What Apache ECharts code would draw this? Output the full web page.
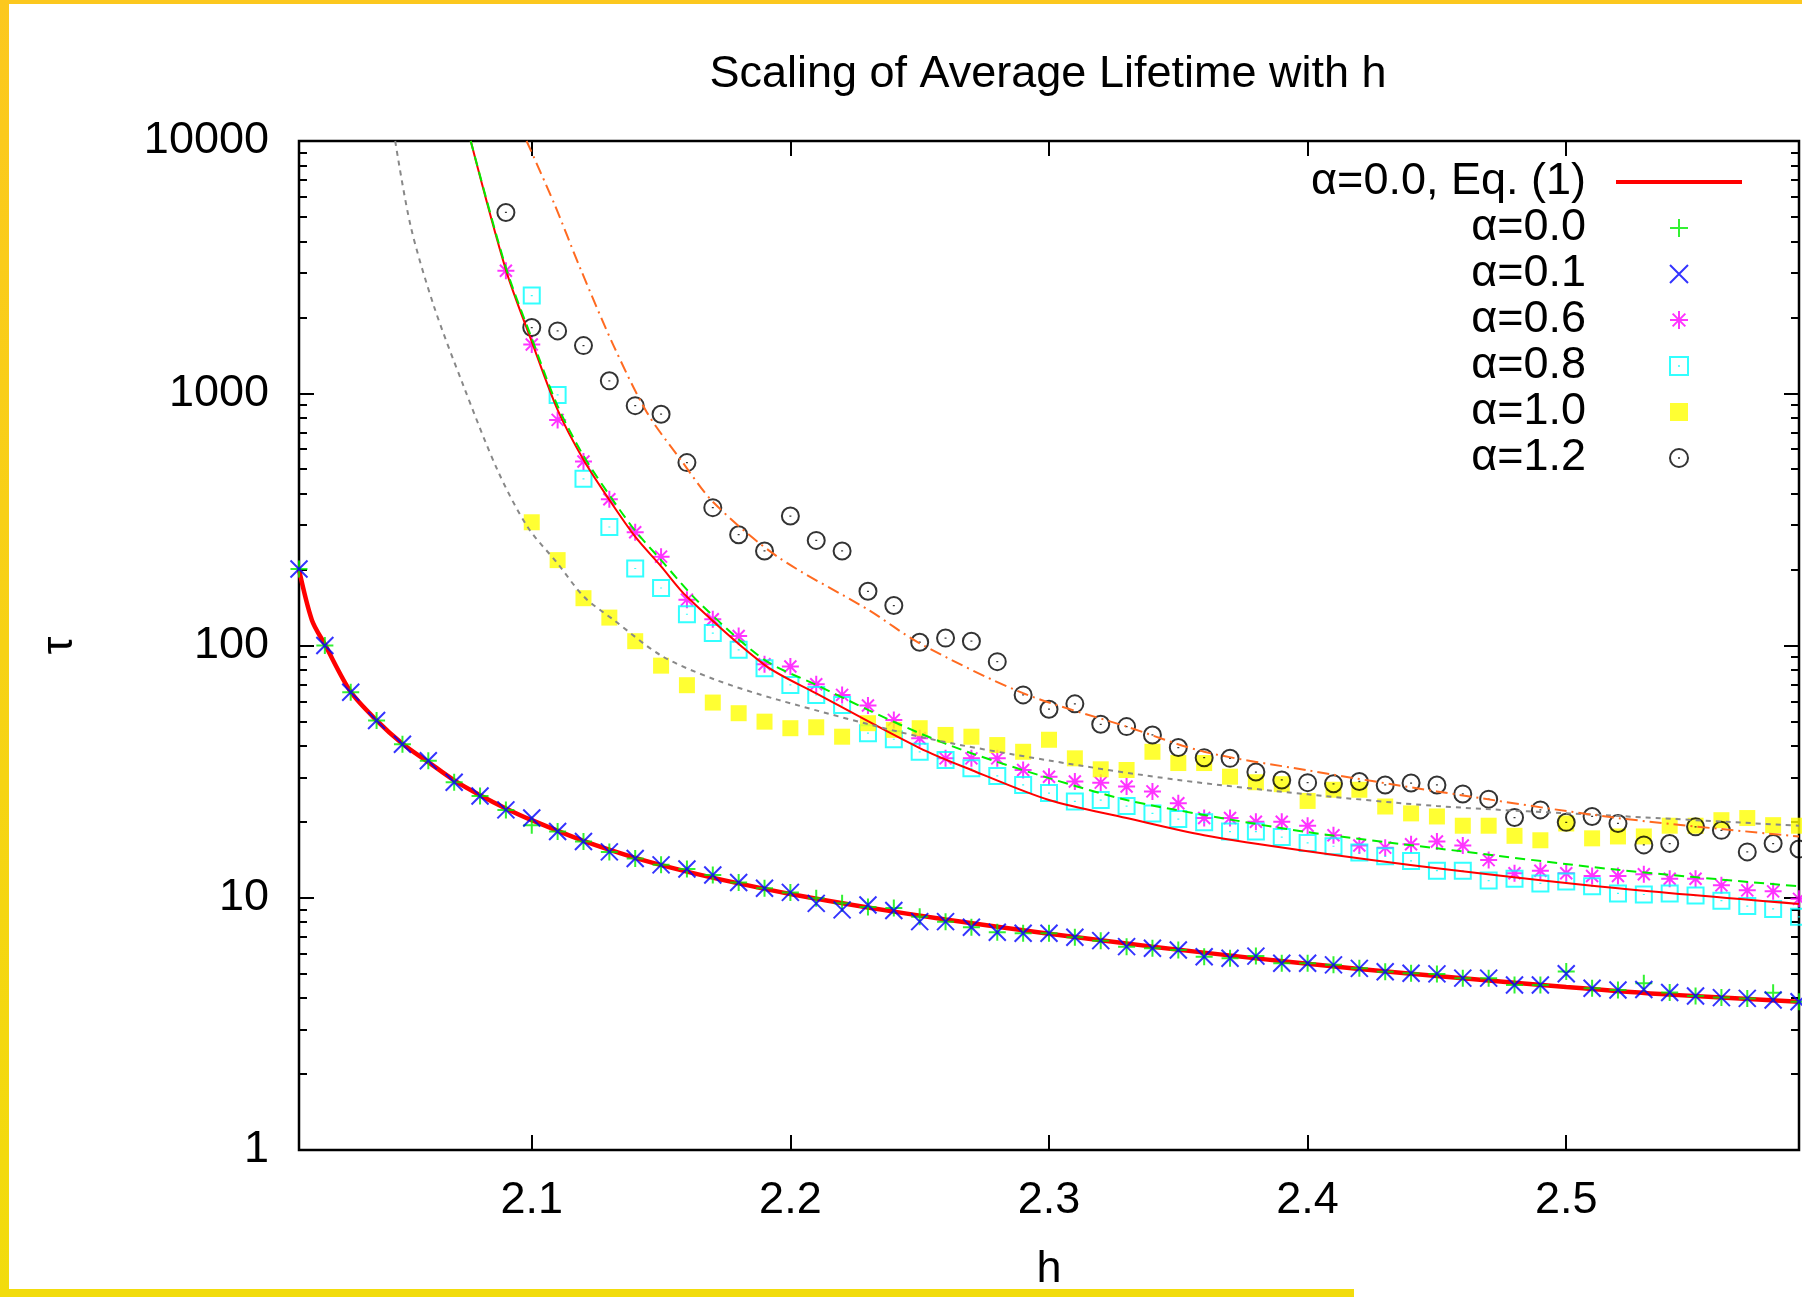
<!DOCTYPE html>
<html><head><meta charset="utf-8">
<script src="https://cdn.jsdelivr.net/npm/echarts@6/dist/echarts.min.js"></script>
<style>html,body{margin:0;padding:0;background:#fff}#chart{width:1802px;height:1297px}</style>
</head><body><div id="chart"></div>
<script>
// ---------------- data ----------------
const hGrid = [2.01,2.02,2.03,2.04,2.05,2.06,2.07,2.08,2.09,2.10,
  2.11,2.12,2.13,2.14,2.15,2.16,2.17,2.18,2.19,2.20,
  2.21,2.22,2.23,2.24,2.25,2.26,2.27,2.28,2.29,2.30,
  2.31,2.32,2.33,2.34,2.35,2.36,2.37,2.38,2.39,2.40,
  2.41,2.42,2.43,2.44,2.45,2.46,2.47,2.48,2.49,2.50,
  2.51,2.52,2.53,2.54,2.55,2.56,2.57,2.58,2.59];
const hFrom209 = hGrid.slice(8);
const hFrom210 = hGrid.slice(9);

const tauAlpha00 = [201,100,65.3,50.4,40.6,34.9,28.7,25.3,22.3,19.4,
  18.3,16.7,15.2,14.3,13.5,13.0,12.3,11.5,10.9,10.5,
  9.95,9.5,9.2,9.1,8.4,8.04,7.64,7.30,7.23,7.23,
  6.97,6.76,6.40,6.31,6.21,5.84,5.76,5.87,5.50,5.50,
  5.42,5.25,5.09,5.02,4.99,4.80,4.80,4.51,4.51,5.1,
  4.38,4.31,4.58,4.21,4.08,4.02,3.99,4.2,3.87];
const tauAlpha01 = [201,100,65.3,50.4,40.6,34.9,28.7,25.3,22.3,20.7,
  18.3,16.7,15.2,14.3,13.5,13.0,12.3,11.5,10.9,10.5,
  9.5,8.95,9.36,8.9,8.04,8.04,7.64,7.30,7.23,7.23,
  6.97,6.76,6.40,6.31,6.21,5.84,5.76,5.87,5.50,5.50,
  5.42,5.25,5.09,5.02,4.99,4.80,4.80,4.51,4.51,5.0,
  4.38,4.31,4.33,4.21,4.08,4.02,3.99,3.93,3.87];
const tauAlpha06 = [3060,1560,784,536,380,281,225,152,127,109,
  84.3,82.5,70.2,63.7,57.8,50.7,42.9,35.7,35.7,35.7,
  32.1,30.2,28.9,28.6,27.6,26.4,23.7,20.7,20.7,20.0,
  20.0,19.3,17.7,16.1,15.8,16.3,16.7,16.1,14.1,12.5,
  12.8,12.5,12.2,12.2,12.4,11.9,11.9,11.2,10.7,10.6,
  9.9];
const tauAlpha08 = [2440,985,458,295,202,169,133,112,96.1,81.3,
  69.8,63.7,58.1,44.9,42.5,37.9,35.2,32.6,30.4,28.0,
  26.0,24.1,24.4,23.1,21.6,20.5,19.9,18.3,18.3,17.4,
  16.5,16.0,15.1,14.6,14.0,12.8,12.8,11.7,11.9,11.4,
  11.6,11.1,10.4,10.3,10.4,10.2,9.74,9.27,9.03,8.4];
const tauAlpha10 = [308,218,154,129,104,83.2,69.6,59.4,53.9,49.9,
  47.0,47.4,43.5,49.2,46.3,47.0,44.2,43.5,40.3,37.9,
  42.3,35.7,32.3,32.1,37.9,34.2,34.2,30.2,28.7,28.2,
  24.2,26.8,26.8,23.0,21.6,21.0,19.3,19.3,17.6,16.9,
  19.7,17.2,17.5,17.5,19.3,19.3,20.3,20.7,19.4,19.3];
const tauAlpha12 = [5208,1822,1767,1545,1120,893,826,531,352,275,
  237,326,261,237,164,144,103,107,104,86.3,
  63.7,55.9,58.7,48.7,47.7,44.2,39.4,35.9,35.7,31.5,
  29.3,28.6,28.3,28.9,28.0,28.5,28.0,25.8,24.6,20.8,
  22.3,19.9,21.0,19.7,16.2,16.4,19.1,18.5,15.2,16.4,
  15.6];

// curves
const eq1H = [2.01,2.015,2.02,2.03,2.04,2.05,2.06,2.07,2.08,2.09,2.10,2.12,2.14,2.16,2.18,2.20,2.23,2.26,2.30,2.34,2.38,2.42,2.46,2.50,2.54,2.59];
const eq1Tau = [200,126,101,65.5,50.5,40.8,34.5,29.2,25.5,22.6,20.3,16.8,14.4,12.7,11.4,10.35,9.15,8.2,7.2,6.4,5.75,5.22,4.8,4.43,4.13,3.87];
const fitRedH = [2.0764,2.09,2.10,2.11,2.12,2.13,2.14,2.15,2.16,2.19,2.21,2.25,2.27,2.30,2.33,2.36,2.40,2.45,2.52,2.59];
const fitRedTau = [10000,3085,1603,859,545,378,270,206,156,83.8,64.6,39.2,32.1,24.4,20.7,17.7,15.3,13.1,10.9,9.45];
const fitGreenH = [2.0764,2.09,2.10,2.11,2.12,2.13,2.14,2.15,2.165,2.19,2.21,2.23,2.25,2.27,2.30,2.33,2.36,2.40,2.45,2.52,2.59];
const fitGreenTau = [10000,3150,1650,890,565,395,285,218,147,87.7,69.8,55.6,44.9,37.4,29.8,24.4,21.3,18.2,15.7,12.9,11.1];
const fitGrayH = [2.0472,2.0532,2.0622,2.0732,2.0867,2.0983,2.1099,2.1202,2.1318,2.1502,2.1705,2.195,2.25,2.30,2.35,2.40,2.45,2.52,2.59];
const fitGrayTau = [10000,4581,2208,1096,497,296,212,156,126,91,73.5,61,43.5,35,29.3,25.7,23.1,21.1,19.3];
const fitOrangeH = [2.098,2.1086,2.119,2.1318,2.1447,2.1576,2.1705,2.195,2.2304,2.25,2.29,2.33,2.36,2.40,2.45,2.52,2.59];
const fitOrangeTau = [10000,5670,3085,1531,834,545,367,225,138,102,64.7,47.7,37.9,32.0,26.4,20.7,17.5];

const xTickValues = [2.1,2.2,2.3,2.4,2.5];
const legendNames = ['α=0.0, Eq. (1)','α=0.0','α=0.1','α=0.6','α=0.8','α=1.0','α=1.2'];

// ---------------- chart ----------------
const FONT = '"Liberation Sans", Arial, Helvetica, sans-serif';
const pairs = (xs, ys) => ys.map((y, i) => [xs[i], y]);

const SYM_PLUS = 'path://M0,8.5L17,8.5M8.5,0L8.5,17';
const SYM_CROSS = 'path://M0,0L17,17M17,0L0,17';
const SYM_STAR = 'path://M0,8.5L17,8.5M8.5,0L8.5,17M2.5,2.5L14.5,14.5M14.5,2.5L2.5,14.5';
const SYM_BOXDOT = 'path://M0,0L16,0L16,16L0,16Z M8,7.4L8,8.6';
const SYM_BOX = 'path://M0,0L16,0L16,16L0,16Z';
const SYM_CIRCDOT = 'path://M0,8A8,8 0 1,1 16,8A8,8 0 1,1 0,8Z M8,7.4L8,8.6';

function markerSeries(name, xs, ys, symbol, size, color, filled) {
  return {
    name, type: 'scatter', data: pairs(xs, ys), symbol, symbolSize: size, clip: false,
    itemStyle: filled ? { color } : { color: 'rgba(0,0,0,0)', borderColor: color, borderWidth: 2 },
    emphasis: { disabled: true }, silent: true, z: 3
  };
}
function curveSeries(name, xs, ys, color, width, type, z) {
  return {
    name, type: 'line', data: pairs(xs, ys), symbol: 'none', showSymbol: false,
    smooth: 0.3, clip: true,
    lineStyle: { color, width, type }, itemStyle: { color },
    emphasis: { disabled: true }, silent: true, z: z
  };
}

const tickStyle = { color: '#000', width: 2 };
const labelStyle = { fontSize: 45, fontFamily: FONT, color: '#000' };

const legendData = legendNames.map((n, i) => i === 0
  ? { name: n, itemStyle: { opacity: 0 }, lineStyle: { width: 4, color: '#ff0000' } }
  : { name: n });

const option = {
  animation: false,
  backgroundColor: '#ffffff',
  title: {
    text: 'Scaling of Average Lifetime with h',
    left: 1048, top: 52, textAlign: 'center', padding: 0,
    textStyle: { fontSize: 45, fontWeight: 'normal', fontFamily: FONT, color: '#000' }
  },
  grid: { left: 299, right: 3, top: 141, bottom: 147, show: true, borderColor: '#000', borderWidth: 2.5, backgroundColor: 'transparent' },
  legend: {
    data: legendData, orient: 'vertical', align: 'right', right: 58, top: 159,
    padding: 0, itemGap: 0, itemWidth: 126, itemHeight: 18, selectedMode: false, symbolKeepAspect: true,
    textStyle: { fontSize: 45, fontFamily: FONT, color: '#000', lineHeight: 46, padding: [0, 25, 0, 0] }
  },
  xAxis: [
    {
      type: 'value', min: 2.01, max: 2.59, position: 'bottom',
      name: 'h', nameLocation: 'middle', nameGap: 97,
      nameTextStyle: { fontSize: 45, fontFamily: FONT, color: '#000' },
      axisLine: { show: false }, splitLine: { show: false },
      axisTick: { show: true, inside: true, length: 15, customValues: xTickValues, lineStyle: tickStyle },
      axisLabel: Object.assign({ customValues: xTickValues, margin: 28, formatter: v => v.toFixed(1) }, labelStyle)
    },
    {
      type: 'value', min: 2.01, max: 2.59, position: 'top',
      axisLine: { show: false }, splitLine: { show: false },
      axisTick: { show: true, inside: true, length: 15, customValues: xTickValues, lineStyle: tickStyle },
      axisLabel: { show: false }
    }
  ],
  yAxis: [
    {
      type: 'log', logBase: 10, min: 1, max: 10000, position: 'left',
      name: 'τ', nameLocation: 'middle', nameRotate: 90, nameGap: 217,
      nameTextStyle: { fontSize: 45, fontFamily: FONT, color: '#000' },
      axisLine: { show: false }, splitLine: { show: false }, minorSplitLine: { show: false },
      axisTick: { show: true, inside: true, length: 15, lineStyle: tickStyle },
      minorTick: { show: true, splitNumber: 9, length: 8, lineStyle: tickStyle },
      axisLabel: Object.assign({ margin: 30, padding: [8, 0, 0, 0], formatter: v => String(v) }, labelStyle)
    },
    {
      type: 'log', logBase: 10, min: 1, max: 10000, position: 'right',
      axisLine: { show: false }, splitLine: { show: false }, minorSplitLine: { show: false },
      axisTick: { show: true, inside: true, length: 15, lineStyle: tickStyle },
      minorTick: { show: true, splitNumber: 9, length: 8, lineStyle: tickStyle },
      axisLabel: { show: false }
    }
  ],
  graphic: [
    { type: 'rect', shape: { x: 0, y: 0, width: 1802, height: 4 }, style: { fill: '#fcc81e' }, z: 100, silent: true },
    { type: 'rect', shape: { x: 0, y: 0, width: 9, height: 1297 },
      style: { fill: { type: 'linear', x: 0, y: 0, x2: 0, y2: 1, colorStops: [{ offset: 0, color: '#fcc81e' }, { offset: 1, color: '#f2dc0c' }] } }, z: 100, silent: true },
    { type: 'rect', shape: { x: 0, y: 1289, width: 1354, height: 8 }, style: { fill: '#f2dc0c' }, z: 100, silent: true }
  ],
  series: [
    curveSeries('α=0.0, Eq. (1)', eq1H, eq1Tau, '#ff0000', 4.5, 'solid', 2),
    markerSeries('α=0.0', hGrid, tauAlpha00, SYM_PLUS, 17, '#00ee00', false),
    markerSeries('α=0.1', hGrid, tauAlpha01, SYM_CROSS, 17, '#0000ff', false),
    markerSeries('α=0.6', hFrom209, tauAlpha06, SYM_STAR, 17, '#ff00ff', false),
    markerSeries('α=0.8', hFrom210, tauAlpha08, SYM_BOXDOT, 16, '#00ffff', false),
    markerSeries('α=1.0', hFrom210, tauAlpha10, SYM_BOX, 16, '#ffff00', true),
    markerSeries('α=1.2', hFrom209, tauAlpha12, SYM_CIRCDOT, 17, '#000000', false),
    curveSeries('fit α=0.6 (Eq. 1)', fitRedH, fitRedTau, '#ff0000', 2, 'solid', 4),
    curveSeries('fit α=0.6', fitGreenH, fitGreenTau, '#00ee00', 2, [10, 6], 4),
    curveSeries('fit α=1.0', fitGrayH, fitGrayTau, '#888888', 2, [5, 5], 4),
    curveSeries('fit α=1.2', fitOrangeH, fitOrangeTau, '#ff6a20', 2, [12, 5, 2, 5], 4)
  ]
};

const chart = echarts.init(document.getElementById('chart'), null, { renderer: 'canvas' });
chart.setOption(option);
</script></body></html>
